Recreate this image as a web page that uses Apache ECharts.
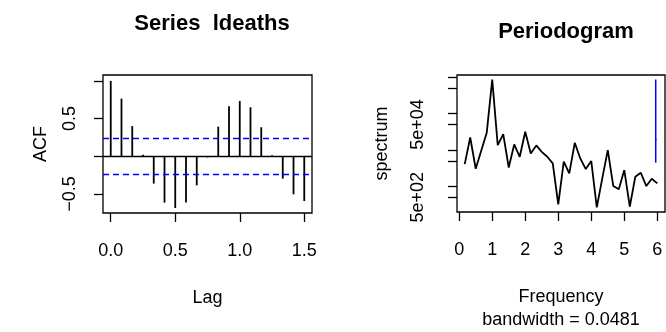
<!DOCTYPE html>
<html><head><meta charset="utf-8">
<script src="https://cdn.jsdelivr.net/npm/echarts@6/dist/echarts.min.js"></script>
<style>html,body{margin:0;padding:0;background:#fff}#c{width:666px;height:332px}</style>
</head><body><div id="c"></div>
<script>
// ---- ACF panel data ----
const acfLags = [0, 0.0833, 0.1667, 0.25, 0.3333, 0.4167, 0.5, 0.5833, 0.6667, 0.75, 0.8333, 0.9167, 1.0, 1.0833, 1.1667, 1.25, 1.3333, 1.4167, 1.5];
const acfValues = [1.0, 0.765, 0.40, 0.02, -0.362, -0.614, -0.685, -0.614, -0.385, -0.015, 0.393, 0.663, 0.733, 0.65, 0.385, 0.015, -0.296, -0.504, -0.593];
const acfCiBound = 0.2357;
const lagTicks = [0, 0.5, 1.0, 1.5];
const acfYTicks = [-0.5, 0, 0.5, 1.0];
const acfYLabels = [-0.5, 0.5];

// ---- Periodogram data ----
const freqs = [0.1667, 0.3333, 0.5, 0.6667, 0.8333, 1.0, 1.1667, 1.3333, 1.5, 1.6667, 1.8333, 2.0, 2.1667, 2.3333, 2.5, 2.6667, 2.8333, 3.0, 3.1667, 3.3333, 3.5, 3.6667, 3.8333, 4.0, 4.1667, 4.3333, 4.5, 4.6667, 4.8333, 5.0, 5.1667, 5.3333, 5.5, 5.6667, 5.8333, 6.0];
const specValues = [4100, 22000, 3050, 9500, 29500, 855000, 13600, 27200, 3300, 14200, 6500, 31500, 8000, 13300, 8900, 6500, 4270, 321, 4750, 2280, 15700, 5850, 2990, 4950, 266, 1660, 9900, 1020, 830, 2800, 277, 1840, 2370, 1020, 1620, 1210];
const freqTicks = [0, 1, 2, 3, 4, 5, 6];
const specYTicks = [500, 1000, 5000, 10000, 50000, 100000, 500000, 1000000];
const specYLabels = [500, 50000];
const bandwidth = 0.0481;
const ciX = 5.952;
const ciLow = 4460, ciMid = 19400, ciHigh = 855000;

const FONT = '"Liberation Sans", Arial, Helvetica, sans-serif';
const AX = 18;

function fmtSigned(v) { return v < 0 ? '\u2212' + Math.abs(v).toFixed(1) : v.toFixed(1); }
function fmtExp(v) {
  const e = Math.floor(Math.log10(v) + 1e-9);
  const m = Math.round(v / Math.pow(10, e));
  return m + 'e+' + (e < 10 ? '0' + e : e);
}

const chart = echarts.init(document.getElementById('c'), null, {renderer: 'canvas'});
const tickStyle = {show: true, inside: false, length: 9, lineStyle: {color: '#000', width: 1.3}};
const noLine = {show: false, onZero: false};

chart.setOption({
  animation: false,
  backgroundColor: '#fff',
  textStyle: {fontFamily: FONT},
  title: [
    {text: 'Series  ldeaths', left: 207, top: 8, textAlign: 'center',
     textStyle: {fontFamily: FONT, fontSize: 22, fontWeight: 'bold', color: '#000'}},
    {text: 'Periodogram', left: 561, top: 16, textAlign: 'center',
     textStyle: {fontFamily: FONT, fontSize: 22, fontWeight: 'bold', color: '#000'}}
  ],
  grid: [
    {left: 103, top: 75, width: 209, height: 138, show: true, borderColor: '#000', borderWidth: 1.3, backgroundColor: 'transparent'},
    {left: 457, top: 75, width: 208, height: 137, show: true, borderColor: '#000', borderWidth: 1.3, backgroundColor: 'transparent'}
  ],
  xAxis: [
    {type: 'value', gridIndex: 0, min: -0.06, max: 1.56,
     axisLine: noLine, splitLine: {show: false},
     axisTick: Object.assign({customValues: lagTicks}, tickStyle),
     axisLabel: {customValues: lagTicks, formatter: v => v.toFixed(1), margin: 29, fontSize: AX, color: '#000', fontFamily: FONT},
     name: 'Lag', nameLocation: 'middle', nameGap: 76,
     nameTextStyle: {fontSize: AX, color: '#000', fontFamily: FONT}},
    {type: 'value', gridIndex: 1, min: -0.067, max: 6.233,
     axisLine: noLine, splitLine: {show: false},
     axisTick: Object.assign({customValues: freqTicks}, tickStyle),
     axisLabel: {customValues: freqTicks, formatter: v => String(v), margin: 29, fontSize: AX, color: '#000', fontFamily: FONT},
     name: 'Frequency\nbandwidth = ' + bandwidth, nameLocation: 'middle', nameGap: 74,
     nameTextStyle: {fontSize: AX, lineHeight: 22.5, color: '#000', fontFamily: FONT}}
  ],
  yAxis: [
    {type: 'value', gridIndex: 0, min: -0.752, max: 1.078,
     axisLine: noLine, splitLine: {show: false},
     axisTick: Object.assign({customValues: acfYTicks}, tickStyle),
     axisLabel: {customValues: acfYLabels, formatter: fmtSigned, rotate: 90, margin: 24, fontSize: AX, color: '#000', fontFamily: FONT},
     name: 'ACF', nameLocation: 'middle', nameGap: 53, nameRotate: 90,
     nameTextStyle: {fontSize: AX, color: '#000', fontFamily: FONT}},
    {type: 'log', logBase: 10, gridIndex: 1, min: 198, max: 1143000,
     axisLine: noLine, splitLine: {show: false},
     axisTick: Object.assign({customValues: specYTicks}, tickStyle),
     axisLabel: {customValues: specYLabels, formatter: fmtExp, rotate: 90, margin: 30, fontSize: AX, color: '#000', fontFamily: FONT},
     name: 'spectrum', nameLocation: 'middle', nameGap: 66, nameRotate: 90,
     nameTextStyle: {fontSize: AX, color: '#000', fontFamily: FONT}}
  ],
  series: [
    {type: 'custom', name: 'ACF', xAxisIndex: 0, yAxisIndex: 0,
     data: acfLags.map((l, i) => [l, acfValues[i]]),
     encode: {x: 0, y: 1},
     renderItem: function (params, api) {
       const p0 = api.coord([api.value(0), 0]);
       const p1 = api.coord([api.value(0), api.value(1)]);
       return {type: 'line', shape: {x1: p0[0], y1: p0[1], x2: p1[0], y2: p1[1]},
               style: {stroke: '#000', lineWidth: 1.8}};
     },
     markLine: {silent: true, symbol: ['none', 'none'], label: {show: false}, animation: false,
       data: [
         {yAxis: acfCiBound, lineStyle: {color: '#0000ff', type: [6, 4], width: 1.3}},
         {yAxis: -acfCiBound, lineStyle: {color: '#0000ff', type: [6, 4], width: 1.3}},
         {yAxis: 0, lineStyle: {color: '#000', type: 'solid', width: 1.3}}
       ]}
    },
    {type: 'line', name: 'spectrum', xAxisIndex: 1, yAxisIndex: 1,
     data: freqs.map((f, i) => [f, specValues[i]]),
     symbol: 'none', lineStyle: {color: '#000', width: 1.8}},
    {type: 'line', name: 'ci', xAxisIndex: 1, yAxisIndex: 1,
     data: [[ciX, ciLow], [ciX, ciHigh]],
     symbol: 'none', lineStyle: {color: '#0000ff', width: 1.5}},
    {type: 'line', name: 'ciMid', xAxisIndex: 1, yAxisIndex: 1,
     data: [[ciX - bandwidth / 2, ciMid], [ciX + bandwidth / 2, ciMid]],
     symbol: 'none', lineStyle: {color: '#0000ff', width: 1.5}}
  ]
});
</script>
</body></html>
